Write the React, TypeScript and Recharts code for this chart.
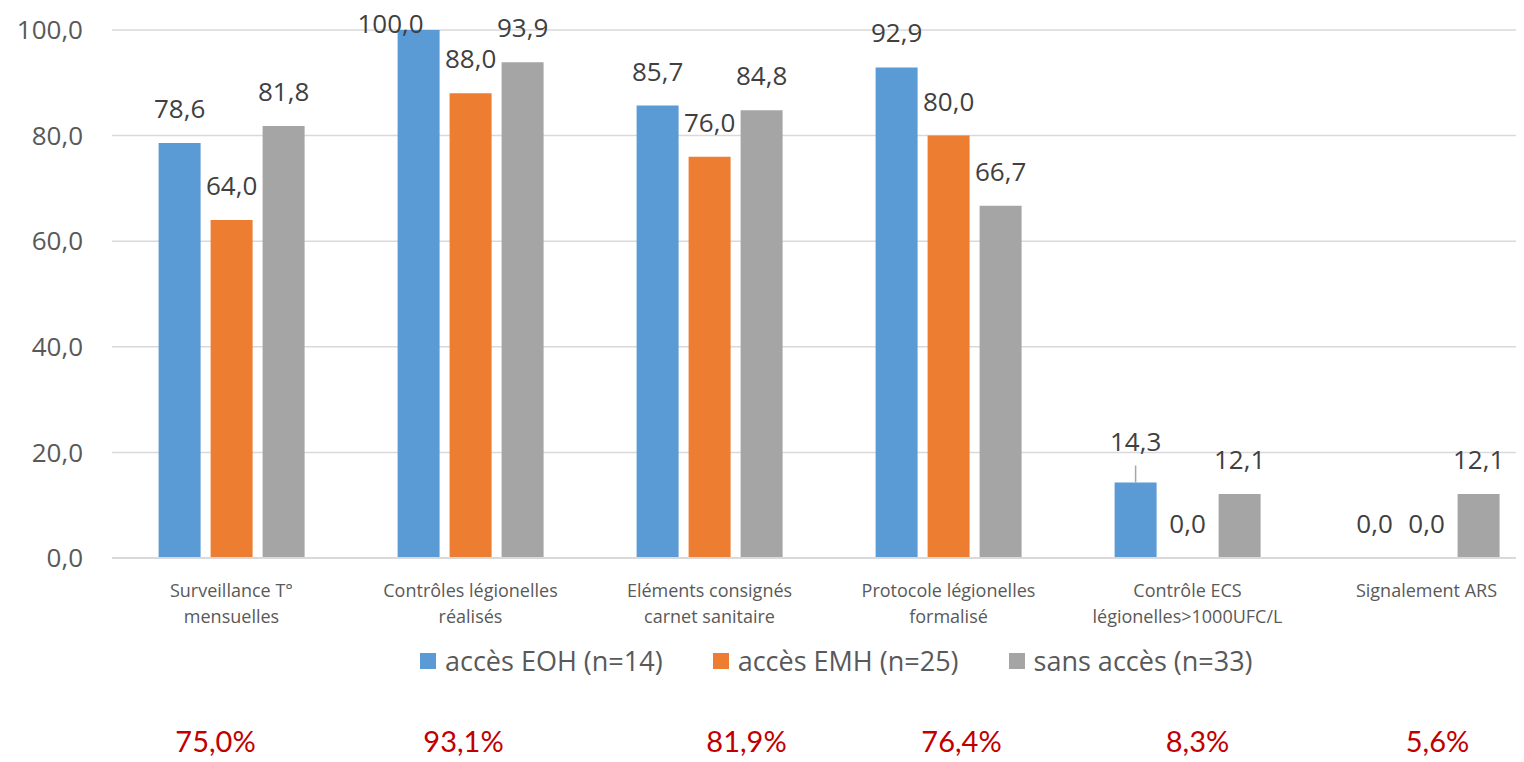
import React from "react";
import { Bar, BarChart, CartesianGrid, LabelList, Legend, XAxis, YAxis } from "recharts";

const categories = [
  "Surveillance T°\nmensuelles",
  "Contrôles légionelles\nréalisés",
  "Eléments consignés\ncarnet sanitaire",
  "Protocole légionelles\nformalisé",
  "Contrôle ECS\nlégionelles>1000UFC/L",
  "Signalement ARS",
];
const eoh = [78.6, 100.0, 85.7, 92.9, 14.3, 0.0];
const emh = [64.0, 88.0, 76.0, 80.0, 0.0, 0.0];
const sansAcces = [81.8, 93.9, 84.8, 66.7, 12.1, 12.1];
const totals = ["75,0%", "93,1%", "81,9%", "76,4%", "8,3%", "5,6%"];
const yTicks = [0, 20, 40, 60, 80, 100];

const series = [
  { key: "eoh", name: "accès EOH (n=14)", color: "#5B9BD5" },
  { key: "emh", name: "accès EMH (n=25)", color: "#ED7D31" },
  { key: "sans", name: "sans accès (n=33)", color: "#A5A5A5" },
];

// the red totals are loose text boxes in the original, not quite centred
const totalNudge = [-16, -7, 37, 13, 10, 11];

const data = categories.map((name, i) => ({
  name,
  eoh: eoh[i],
  emh: emh[i],
  sans: sansAcces[i],
}));

const fmt = (v: number) => v.toFixed(1).replace(".", ",");

const TEXT = "#595959";

function CategoryTick(props: any) {
  const { x, y, payload, index } = props;
  const lines = String(payload.value).split("\n");
  return (
    <g>
      {lines.map((l, i) => (
        <text key={i} x={x} y={y + 39 + i * 26} textAnchor="middle" fill={TEXT} fontSize={18}>
          {l}
        </text>
      ))}
      <text
        x={x + totalNudge[index]}
        y={y + 194}
        textAnchor="middle"
        fill="#C00000"
        fontSize={29}
        fontFamily="Lato"
      >
        {totals[index]}
      </text>
    </g>
  );
}

// leader line only for the lifted 14,3 label; 100,0 gets pushed down/left like Excel does
const makeLabel = (s: number) => (props: any) => {
  const { x, y, width, value, index } = props;
  let cx = x + width / 2;
  const leader = s === 0 && index === 4;
  let base = y - 25;
  if (leader) base = y - 31;
  else if (base < 25) {
    base = 25;
    cx -= 28;
  }
  return (
    <g>
      {leader && <line x1={cx} x2={cx} y1={y - 17} y2={y} stroke="#A6A6A6" strokeWidth={1.5} />}
      <text x={cx} y={base} textAnchor="middle" fill="#404040" fontSize={26}>
        {fmt(Number(value))}
      </text>
    </g>
  );
};

function LegendContent() {
  return (
    <div style={{ display: "flex", alignItems: "center", gap: 50 }}>
      {series.map((s) => (
        <div key={s.key} style={{ display: "flex", alignItems: "center" }}>
          <span style={{ width: 16, height: 16, background: s.color, marginRight: 9, display: "inline-block" }} />
          <span style={{ fontSize: 27, color: TEXT, lineHeight: "30px" }}>{s.name}</span>
        </div>
      ))}
    </div>
  );
}

export default function App() {
  return (
    <div style={{ width: 1516, height: 754, overflow: "hidden", fontFamily: "'Open Sans', sans-serif", background: "#fff" }}>
      <style>{"html,body{overflow:hidden}"}</style>
      <BarChart
        width={1538}
        height={754}
        data={data}
        margin={{ top: 22, right: 0, left: 0, bottom: 134 }}
        barCategoryGap="19.5%"
        barGap={10}
      >
        <CartesianGrid vertical={false} stroke="#D9D9D9" strokeWidth={1.5} />
        <XAxis
          dataKey="name"
          height={70}
          tickLine={false}
          tickSize={0}
          tickMargin={0}
          axisLine={{ stroke: "#D9D9D9", strokeWidth: 2 }}
          tick={<CategoryTick />}
          interval={0}
        />
        <YAxis
          width={104}
          domain={[0, 100]}
          ticks={yTicks}
          axisLine={false}
          tickLine={false}
          tickSize={0}
          tickMargin={29}
          tickFormatter={fmt}
          tick={{ fill: TEXT, fontSize: 26 }}
        />
        <Legend
          layout="horizontal"
          verticalAlign="middle"
          align="center"
          wrapperStyle={{ top: 638, left: 412, width: "auto" }}
          content={<LegendContent />}
        />
        {series.map((s, i) => (
          <Bar
            key={s.key}
            dataKey={s.key}
            name={s.name}
            fill={s.color}
            minPointSize={0.01}
            isAnimationActive={false}
          >
            <LabelList dataKey={s.key} content={makeLabel(i)} />
          </Bar>
        ))}
      </BarChart>
    </div>
  );
}
